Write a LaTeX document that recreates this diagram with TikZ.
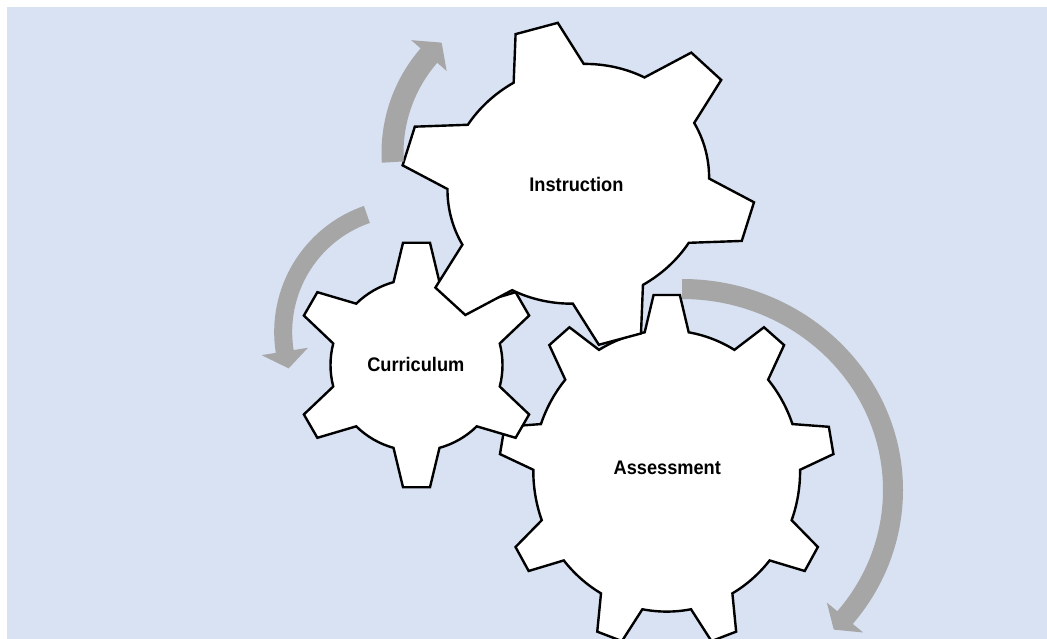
\documentclass[tikz,border=0pt]{standalone}
\usepackage{fontspec}
\setmainfont{Liberation Sans}
\definecolor{panel}{HTML}{D9E2F2}
\definecolor{arrowgray}{HTML}{A6A6A6}

% Outline of a gear around the current origin:
% #1 teeth, #2 angle of first tooth, #3 body radius, #4 tip radius,
% #5 half angle of a tooth at its base, #6 half angle at its tip
\newcommand{\gearpath}[6]{%
  ({#2-#5}:#3)
  \foreach \k in {1,...,#1}{
    -- ({#2+(\k-1)*360/#1-#6}:#4)
    -- ({#2+(\k-1)*360/#1+#6}:#4)
    -- ({#2+(\k-1)*360/#1+#5}:#3)
    arc[start angle={#2+(\k-1)*360/#1+#5}, end angle={#2+\k*360/#1-#5}, radius=#3]
  }
  -- cycle}

% Curved band with a triangular head:
% #1,#2 radii of the centre line, #3 half band width, #4 start angle,
% #5 angle of the head's base, #6 angle of the tip, #7 half head width
\newcommand{\arcarrow}[7]{%
  (#4:{#1+#3} and {#2+#3})
  arc[start angle=#4, end angle=#5, x radius={#1+#3}, y radius={#2+#3}]
  -- (#5:{#1+#7} and {#2+#7})
  -- (#6:#1 and #2)
  -- (#5:{#1-#7} and {#2-#7})
  -- (#5:{#1-#3} and {#2-#3})
  arc[start angle=#5, end angle=#4, x radius={#1-#3}, y radius={#2-#3}]
  -- cycle}

\newcommand{\gearword}[1]{\scalebox{1}[1.08]{#1}}

\begin{document}
\begin{tikzpicture}[x=1pt, y=-1pt,
  gearline/.style={draw=black, line width=2.4pt, fill=white, line join=miter},
  turnarrow/.style={fill=arrowgray},
  gearname/.style={inner sep=0pt, font=\bfseries\fontsize{18.2}{20}\selectfont}]

\useasboundingbox (0,0) rectangle (1047,639);
\fill[white] (0,0) rectangle (1047,639);
\fill[panel] (7,7) rectangle (1047,639);

\begin{scope}
  \clip (0,0) rectangle (1047,639);

  % lower right gear
  \begin{scope}[shift={(666.7,471)}, yscale=1.054]
    \draw[gearline] \gearpath{9}{-90}{133.4}{167.5}{9.5}{4.5};
  \end{scope}

  % left gear
  \begin{scope}[shift={(416.5,365)}]
    \draw[gearline] \gearpath{6}{-90}{86}{123}{15.5}{6.3};
  \end{scope}

  % upper gear, slightly stretched along a tilted axis
  \begin{scope}[shift={(578.3,183.8)}, rotate=15, xscale=1.106]
    \draw[gearline] \gearpath{6}{30}{119}{162}{16}{7};
  \end{scope}

  % turning arrows
  \begin{scope}[shift={(541,153)}]
    \fill[turnarrow] \arcarrow{148.5}{148.5}{11}{176.5}{221}{228}{23.5};
  \end{scope}
  \begin{scope}[shift={(407.6,332)}]
    \fill[turnarrow] \arcarrow{124.4}{124.4}{9}{250.9}{171}{163}{23.5};
  \end{scope}
  \begin{scope}[shift={(682,490)}]
    \fill[turnarrow] \arcarrow{211}{201}{10}{-90}{39.4}{44}{23.5};
  \end{scope}
\end{scope}

\node[gearname] (instruction) at (576.4,184) {\gearword{Instruction}};
\node[gearname] (curriculum) at (415.8,364) {\gearword{Curriculum}};
\node[gearname] (assessment) at (667.3,468.3) {\gearword{Assessment}};

\end{tikzpicture}
\end{document}
